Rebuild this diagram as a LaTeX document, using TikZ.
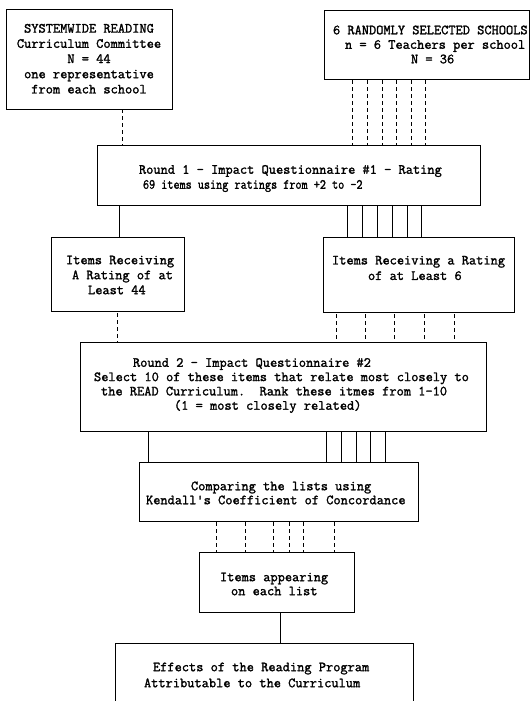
\documentclass[tikz,border=0pt]{standalone}
\usepackage{fontspec}
\usepackage{graphicx}
\newfontfamily\tw{lmmono12-regular.otf}[RawFeature={embolden=1.6}]
\tikzset{
  box/.style={draw, line width=0.9pt, inner sep=0pt, outer sep=0pt, anchor=north west},
  txt/.style={inner sep=0pt, outer sep=0pt, anchor=west, align=left},
  dl/.style={line width=0.9pt, dash pattern=on 4pt off 3pt},
  sl/.style={line width=0.8pt}
}
\newcommand{\twf}[1]{\tw\fontsize{14}{#1}\selectfont}
\begin{document}
\begin{tikzpicture}[x=1pt, y=-1pt]
\useasboundingbox (0,0) rectangle (532,701);
% boxes
\node[box, minimum width=166pt, minimum height=100pt] (b1) at (6,9) {};
\node[box, minimum width=205pt, minimum height=69pt] (b2) at (324,10) {};
\node[box, minimum width=383pt, minimum height=60pt] (r1) at (97,145) {};
\node[box, minimum width=133pt, minimum height=74pt] (li) at (51,237) {};
\node[box, minimum width=191pt, minimum height=75pt] (ri) at (323,237) {};
\node[box, minimum width=406pt, minimum height=89pt] (r2) at (80,342) {};
\node[box, minimum width=279pt, minimum height=59pt] (cmp) at (139,462) {};
\node[box, minimum width=155pt, minimum height=60pt] (ia) at (199,552) {};
\node[box, minimum width=298pt, minimum height=75pt] (ef) at (115,643) {};
% texts
\node[txt, anchor=center, align=center, font=\twf{15.2}] (t1) at (89,58.7)
  {SYSTEMWIDE READING\\Curriculum Committee\\N = 44\\one representative\\from each school};
\node[txt, font=\twf{14.5}] (t2) at (333,44.5)
  {6 RANDOMLY SELECTED SCHOOLS\\\hspace*{12pt}n = 6 Teachers per school\\\hspace*{78pt}N = 36};
\node[txt, font=\twf{15}] (t3) at (139,178.5)
  {Round 1 - Impact Questionnaire \#1 - Rating\\\hspace*{4pt}\scalebox{0.846}[1]{69 items using ratings from +2 to -2}};
\node[txt, font=\twf{15}] (t4) at (66,275)
  {Items Receiving\\\hspace*{6pt}A Rating of at\\\hspace*{22pt}Least 44};
\node[txt, font=\twf{15.5}] (t5) at (332,268)
  {Items Receiving a Rating\\\hspace*{36pt}of at Least 6};
\node[txt, font=\twf{14.3}] (t6) at (94,385.5)
  {\hspace*{39pt}Round 2 - Impact Questionnaire \#2\\Select 10 of these items that relate most closely to\\\hspace*{7pt}the READ Curriculum.\ \ Rank these itmes from 1-10\\\hspace*{80pt}(1 = most closely related)};
\node[txt, font=\twf{14}] (t7) at (146,493)
  {\hspace*{45pt}Comparing the lists using\\Kendall's Coefficient of Concordance};
\node[txt, font=\twf{14}] (t8) at (220,584)
  {Items appearing\\\hspace*{11pt}on each list};
\node[txt, font=\twf{16}] (t9) at (144,675)
  {\hspace*{9pt}Effects of the Reading Program\\Attributable to the Curriculum};
% connectors
\draw[dl] (b1.south -| 122,0) -- (r1.north -| 122,0);
\foreach \x in {352,367,382,396,411,425}
  \draw[dl, dash phase=6pt] (b2.south -| \x,0) -- (r1.north -| \x,0);
\draw[sl] (r1.south -| 119,0) -- (li.north -| 119,0);
\foreach \x in {347,362,377,392,407,421}
  \draw[sl] (r1.south -| \x,0) -- (ri.north -| \x,0);
\draw[dl, dash phase=5pt] (li.south -| 117,0) -- (r2.north -| 117,0);
\foreach \x in {336,365,394,424,454}
  \draw[dl, dash phase=5pt] (ri.south -| \x,0) -- (r2.north -| \x,0);
\draw[sl] (r2.south -| 148,0) -- (cmp.north -| 148,0);
\foreach \x in {326,341,356,370,385}
  \draw[sl] (r2.south -| \x,0) -- (cmp.north -| \x,0);
\foreach \x in {216,245,273,289,303,334}
  \draw[dl, dash phase=6pt] (cmp.south -| \x,0) -- (ia.north -| \x,0);
\draw[sl] (ia.south -| 280,0) -- (ef.north -| 280,0);
\end{tikzpicture}
\end{document}
